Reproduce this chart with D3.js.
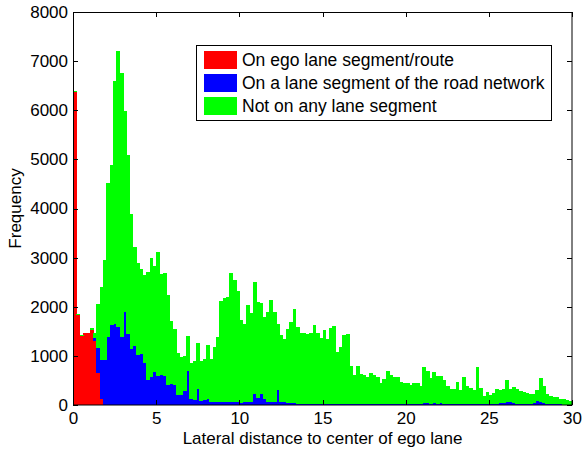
<!DOCTYPE html>
<html>
<head>
<meta charset="utf-8">
<script src="https://cdn.jsdelivr.net/npm/d3@7"></script>
<style>
  body { margin: 0; background: #fff; }
  text { font-family: "Liberation Sans", Arial, Helvetica, sans-serif; }
</style>
</head>
<body>
<div id="chart"></div>
<script>
// Histogram of lateral distances, bins of 0.2 from 0 to 30
var binWidth = 0.2;

var seriesNames = ["On ego lane segment/route", "On a lane segment of the road network", "Not on any lane segment"];
var seriesColors = ["#ff0000", "#0000ff", "#00ff00"];

var redCounts = [6370, 1827, 1405, 1460, 1460, 1530, 1304, 645, 115];

var blueCounts = [
  0, 0, 0, 0, 0, 0, 54, 509, 802, 917,
  1392, 1630, 1650, 1596, 1378, 1888, 1440, 1141, 1202, 1012,
  1039, 849, 509, 564, 679, 591, 620, 600, 400, 430,
  410, 210, 200, 280, 690, 120, 100, 320, 80, 110,
  120, 70, 65, 65, 60, 60, 55, 55, 55, 55,
  50, 55, 60, 60, 217, 150, 217, 120, 60, 60,
  60, 306, 55, 55, 50, 45, 40, 30, 25, 25,
  20, 25, 20, 25, 20, 25, 20, 25, 20, 20,
  25, 20, 20, 25, 20, 25, 20, 20, 25, 20,
  20, 25, 30, 25, 20, 25, 20, 25, 20, 25,
  25, 30, 25, 30, 30, 35, 40, 30, 35, 30,
  35, 30, 25, 30, 25, 30, 25, 20, 25, 20,
  25, 30, 25, 20, 25, 20, 25, 30, 35, 45,
  70, 65, 40, 30, 25, 20, 25, 30, 50, 85,
  60, 35, 25, 20, 20, 15, 15, 10, 10, 5
];

var greenCounts = [
  26, 27, 28, 13, 13, 38, 102, 903, 1493, 2037,
  3137, 3259, 4936, 5615, 5378, 4101, 3653, 2743, 2010, 1887,
  1738, 1799, 2207, 2424, 2159, 2519, 2048, 2082, 1841, 1288,
  1138, 842, 785, 725, 716, 729, 796, 936, 816, 820,
  1102, 860, 1123, 1327, 2058, 2110, 2145, 2627, 2491, 2267,
  1681, 1588, 1977, 1821, 2295, 1955, 1867, 1679, 1841, 2079,
  1841, 1337, 1371, 1289, 1498, 1653, 1909, 1566, 1435, 1435,
  1426, 1435, 1610, 1435, 1338, 1503, 1318, 1537, 1589, 1066,
  1163, 1406, 1426, 776, 591, 776, 611, 591, 552, 625,
  591, 552, 411, 498, 673, 586, 557, 538, 442, 416,
  416, 377, 423, 418, 360, 746, 653, 527, 640, 561,
  556, 479, 362, 289, 305, 445, 281, 550, 355, 325,
  275, 751, 325, 167, 240, 180, 220, 289, 265, 277,
  439, 265, 320, 300, 260, 252, 225, 194, 174, 215,
  483, 352, 199, 170, 150, 141, 115, 110, 90, 70
];

var xTicks = [0, 5, 10, 15, 20, 25, 30];
var yTicks = [0, 1000, 2000, 3000, 4000, 5000, 6000, 7000, 8000];

var svgWidth = 582;
var svgHeight = 451;
var margin = { top: 12, right: 10, bottom: 46, left: 73 };
var width = svgWidth - margin.left - margin.right;
var height = svgHeight - margin.top - margin.bottom;
var fontSize = "17px";

var svg = d3.select("#chart")
  .append("svg")
  .attr("width", svgWidth)
  .attr("height", svgHeight);

var g = svg.append("g")
  .attr("transform", `translate(${margin.left}, ${margin.top})`);

// build rows for the stack
var rows = greenCounts.map(function(v, i) {
  return {
    x0: i * binWidth,
    red: redCounts[i] || 0,
    blue: blueCounts[i],
    green: v
  };
});

var stack = d3.stack().keys(["red", "blue", "green"]);
var layers = stack(rows);

var xScale = d3.scaleLinear().domain([0, 30]).range([0, width]);
var yScale = d3.scaleLinear().domain([0, 8000]).range([height, 0]);

g.selectAll(".layer")
  .data(layers)
  .enter()
  .append("g")
  .attr("class", "layer")
  .attr("fill", (d, i) => seriesColors[i])
  .selectAll("rect")
  .data(d => d)
  .enter()
  .append("rect")
  .attr("shape-rendering", "crispEdges")
  .attr("x", d => xScale(d.data.x0))
  .attr("width", xScale(binWidth) - xScale(0) + 0.6)
  .attr("y", d => yScale(d[1]))
  .attr("height", d => Math.max(0, yScale(d[0]) - yScale(d[1])));

// axes, MATLAB style: ticks inside on all four sides
var tickLen = 5;

var bottomAxis = d3.axisBottom(xScale).tickValues(xTicks).tickFormat(d3.format("d")).tickSize(0).tickPadding(7);
var leftAxis = d3.axisLeft(yScale).tickValues(yTicks).tickFormat(d3.format("d")).tickSize(0).tickPadding(5);

var xAxisG = g.append("g")
  .attr("transform", `translate(0, ${height})`)
  .call(bottomAxis);
var yAxisG = g.append("g").call(leftAxis);

[xAxisG, yAxisG].forEach(function(a) {
  a.select(".domain").remove();
  a.selectAll("text")
    .style("font-size", fontSize)
    .attr("fill", "#000");
});

var tickG = g.append("g").attr("stroke", "#000").attr("stroke-width", 1);

tickG.selectAll(".xt-bottom")
  .data(xTicks)
  .enter().append("line")
  .attr("x1", d => Math.round(xScale(d)) + 0.5)
  .attr("x2", d => Math.round(xScale(d)) + 0.5)
  .attr("y1", height)
  .attr("y2", height - tickLen);

tickG.selectAll(".xt-top")
  .data(xTicks)
  .enter().append("line")
  .attr("x1", d => Math.round(xScale(d)) + 0.5)
  .attr("x2", d => Math.round(xScale(d)) + 0.5)
  .attr("y1", 0)
  .attr("y2", tickLen);

tickG.selectAll(".yt-left")
  .data(yTicks)
  .enter().append("line")
  .attr("x1", 0)
  .attr("x2", tickLen)
  .attr("y1", d => Math.round(yScale(d)) + 0.5)
  .attr("y2", d => Math.round(yScale(d)) + 0.5);

tickG.selectAll(".yt-right")
  .data(yTicks)
  .enter().append("line")
  .attr("x1", width)
  .attr("x2", width - tickLen)
  .attr("y1", d => Math.round(yScale(d)) + 0.5)
  .attr("y2", d => Math.round(yScale(d)) + 0.5);

// box
g.append("rect")
  .attr("x", 0.5)
  .attr("y", 0.5)
  .attr("width", width - 0.5)
  .attr("height", height - 0.5)
  .attr("fill", "none")
  .attr("stroke", "#000")
  .attr("stroke-width", 1);

// axis labels
g.append("text")
  .attr("x", width / 2)
  .attr("y", height + 39)
  .attr("text-anchor", "middle")
  .style("font-size", fontSize)
  .text("Lateral distance to center of ego lane");

g.append("text")
  .attr("transform", "rotate(-90)")
  .attr("x", -height / 2)
  .attr("y", -margin.left + 21)
  .attr("text-anchor", "middle")
  .style("font-size", fontSize)
  .text("Frequency");

// legend
var legend = g.append("g")
  .attr("transform", `translate(${196 - margin.left}, ${45 - margin.top})`);

legend.append("rect")
  .attr("x", 0.5)
  .attr("y", 0.5)
  .attr("width", 355)
  .attr("height", 75)
  .attr("fill", "#fff")
  .attr("stroke", "#000");

var items = legend.selectAll(".item")
  .data(seriesNames)
  .enter()
  .append("g")
  .attr("class", "item")
  .attr("transform", (d, i) => `translate(8, ${6 + i * 23})`);

items.append("rect")
  .attr("width", 33)
  .attr("height", 18)
  .attr("fill", (d, i) => seriesColors[i]);

items.append("text")
  .attr("x", 38)
  .attr("y", 15)
  .style("font-size", "17.5px")
  .text(d => d);
</script>
</body>
</html>
